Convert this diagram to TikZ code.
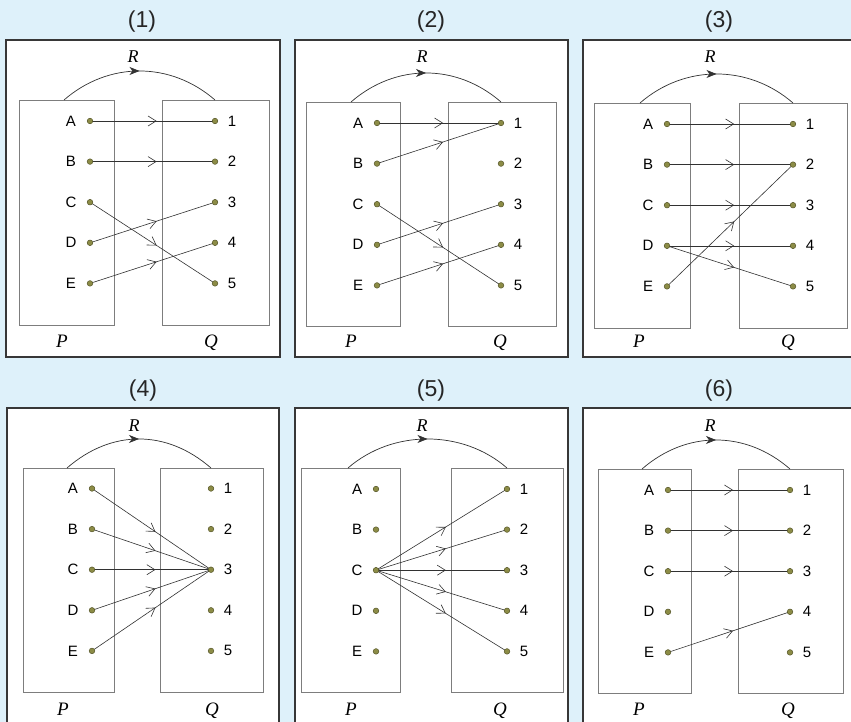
\documentclass[tikz,border=0pt]{standalone}
\usepackage{fontspec}
\setmainfont{Liberation Serif}
\setsansfont{Liberation Sans}
\usetikzlibrary{arrows.meta,decorations.markings}
\definecolor{bgblue}{RGB}{222,241,250}
\definecolor{frame}{RGB}{55,55,55}
\definecolor{setbox}{RGB}{125,125,125}
\definecolor{linec}{RGB}{50,50,50}
\definecolor{dotfill}{RGB}{140,140,70}
\definecolor{dotdraw}{RGB}{85,85,40}
\pgfdeclarelayer{back}
\pgfdeclarelayer{mid}
\pgfsetlayers{back,mid,main}
\tikzset{
  outerbox/.style={draw=frame,line width=1.3pt,fill=white},
  setrect/.style={draw=setbox,line width=0.8pt},
  dotnode/.style={circle,fill=dotfill,draw=dotdraw,line width=0.5pt,minimum size=5.6pt,inner sep=0pt},
  elem/.style={font=\sffamily\fontsize{15}{15}\selectfont,inner sep=0pt,text=black},
  ttl/.style={font=\sffamily\fontsize{23}{23}\selectfont,inner sep=0pt,anchor=base,text=black!85},
  setname/.style={font=\itshape\fontsize{19}{19}\selectfont,inner sep=0pt,anchor=base},
  relname/.style={font=\itshape\fontsize{18}{18}\selectfont,inner sep=0pt,anchor=base},
  maparrow/.style={draw=linec,line width=0.6pt,postaction={decorate},
    decoration={markings,mark=at position 0.533 with {\arrow{Straight Barb[length=8pt,width=10pt,line width=0.6pt]}}}},
  relarc/.style={draw=linec,line width=0.7pt,postaction={decorate},
    decoration={markings,mark=at position 0.5 with {\arrow{Stealth[length=10pt,width=8pt,inset=3pt]}}}},
}
% panel drawing: uses \pn \ox \oy \ow \oh \pl \pr \ql \qr \bt \bb \pdx \qdx \rz \arcx \ttext
\newcommand\drawpanel{%
  \begin{pgfonlayer}{back}
    \path[outerbox] (\ox,\oy) rectangle ++(\ow,\oh);
    \path[setrect] (\pl,\bt) rectangle (\pr,\bb);
    \path[setrect] (\ql,\bt) rectangle (\qr,\bb);
  \end{pgfonlayer}
  \node[ttl] (\pn title) at (\ox+136,\oy-12) {\ttext};
  \node[relname] (\pn R) at (\ox+127,\oy+23) {R};
  \node[setname] (\pn P) at (\ox+56,\oy+307) {P};
  \node[setname] (\pn Q) at (\ox+205,\oy+307) {Q};
  \coordinate (\pn arcs) at (\arcx,\bt);
  \coordinate (\pn arce) at (\qdx,\bt);
  \draw[relarc] (\pn arcs) .. controls (\arcx+44.5,\bt-38.7) and (\qdx-44.5,\bt-38.7) .. (\pn arce);
  \foreach \L/\D [count=\i from 0] in {A/1,B/2,C/3,D/4,E/5}{
    \node[dotnode] (\pn\L) at (\pdx,\rz+40.6*\i) {};
    \node[dotnode] (\pn\D) at (\qdx,\rz+40.6*\i) {};
    \node[elem] (\pn l\L) at (\pdx-19,\rz+40.6*\i) {\L};
    \node[elem] (\pn l\D) at (\qdx+17,\rz+40.6*\i) {\D};
  }
}
\newcommand\mapto[2]{\begin{pgfonlayer}{mid}\path[maparrow] (\pn#1.center) -- (\pn#2.center);\end{pgfonlayer}}
\begin{document}
\begin{tikzpicture}[x=1pt,y=-1pt]
\useasboundingbox (0,0) rectangle (851,722);
\begin{pgfonlayer}{back}
\fill[bgblue] (0,0) rectangle (851,722);
\end{pgfonlayer}
\clip (0,0) rectangle (851,722);
% panel 1
\def\pn{a}\def\ttext{(1)}\def\ox{6}\def\oy{40}\def\ow{274}\def\oh{317}
\def\pl{19}\def\pr{114}\def\ql{162}\def\qr{269}\def\bt{100}\def\bb{325}
\def\pdx{90}\def\qdx{215}\def\rz{121}\def\arcx{64}
\drawpanel
\mapto{A}{1}\mapto{B}{2}\mapto{C}{5}\mapto{D}{3}\mapto{E}{4}
% panel 2
\def\pn{b}\def\ttext{(2)}\def\ox{295}\def\oy{40}\def\ow{273}\def\oh{317}
\def\pl{306}\def\pr{400}\def\ql{448}\def\qr{556}\def\bt{102}\def\bb{326}
\def\pdx{377}\def\qdx{501}\def\rz{123}\def\arcx{351}
\drawpanel
\mapto{A}{1}\mapto{B}{1}\mapto{C}{5}\mapto{D}{3}\mapto{E}{4}
% panel 3
\def\pn{c}\def\ttext{(3)}\def\ox{583}\def\oy{40}\def\ow{273}\def\oh{317}
\def\pl{594}\def\pr{690}\def\ql{739}\def\qr{847}\def\bt{103}\def\bb{328}
\def\pdx{667}\def\qdx{793}\def\rz{124}\def\arcx{640}
\drawpanel
\mapto{A}{1}\mapto{B}{2}\mapto{C}{3}\mapto{D}{4}\mapto{D}{5}\mapto{E}{2}
% panel 4
\def\pn{d}\def\ttext{(4)}\def\ox{7}\def\oy{408}\def\ow{272}\def\oh{330}
\def\pl{23}\def\pr{114}\def\ql{160}\def\qr{263}\def\bt{468}\def\bb{692}
\def\pdx{92}\def\qdx{211}\def\rz{488.5}\def\arcx{67}
\drawpanel
\mapto{A}{3}\mapto{B}{3}\mapto{C}{3}\mapto{D}{3}\mapto{E}{3}
% panel 5
\def\pn{e}\def\ttext{(5)}\def\ox{295}\def\oy{408}\def\ow{273}\def\oh{330}
\def\pl{301}\def\pr{400}\def\ql{451}\def\qr{563}\def\bt{468}\def\bb{692}
\def\pdx{376}\def\qdx{507}\def\rz{489}\def\arcx{348}
\drawpanel
\mapto{C}{1}\mapto{C}{2}\mapto{C}{3}\mapto{C}{4}\mapto{C}{5}
% panel 6
\def\pn{f}\def\ttext{(6)}\def\ox{583}\def\oy{408}\def\ow{273}\def\oh{330}
\def\pl{598}\def\pr{691}\def\ql{738}\def\qr{843}\def\bt{469}\def\bb{693}
\def\pdx{668}\def\qdx{790}\def\rz{490}\def\arcx{642}
\drawpanel
\mapto{A}{1}\mapto{B}{2}\mapto{C}{3}\mapto{E}{4}
\end{tikzpicture}
\end{document}
